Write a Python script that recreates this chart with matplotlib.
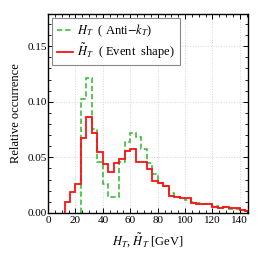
import numpy as np
import matplotlib
matplotlib.use("Agg")
import matplotlib.pyplot as plt
from matplotlib.ticker import MultipleLocator

plt.rcParams['font.family'] = ['Liberation Serif', 'DejaVu Serif']
plt.rcParams['mathtext.fontset'] = 'stix'

red_edges = np.arange(12, 152, 4)
red_vals = [0.0102, 0.0192, 0.0258, 0.0678, 0.0867, 0.0717, 0.0546,
            0.0441, 0.0366, 0.0447, 0.0486, 0.0553, 0.0573, 0.0462, 0.0462,
            0.0393, 0.0290, 0.0273, 0.0243, 0.0156, 0.0147, 0.0135, 0.0136,
            0.0093, 0.0084, 0.0076, 0.0078, 0.0057, 0.0047, 0.0055, 0.0042,
            0.0040, 0.0028, 0.0020]
green_edges = np.arange(24, 152, 4)
green_vals = [0.1026, 0.1218, 0.0756, 0.0462,
              0.0258, 0.0141, 0.0141, 0.0456, 0.0635, 0.0717, 0.0687, 0.0576,
              0.0453, 0.0351, 0.0273, 0.0243, 0.0177, 0.0147, 0.0132, 0.0117,
              0.0096, 0.0087, 0.0078, 0.0078, 0.0060, 0.0048, 0.0050, 0.0038,
              0.0036, 0.0026, 0.0020]

fig = plt.figure(figsize=(2.6, 2.6), dpi=100)
ax = fig.add_axes([0.185, 0.181, 0.769, 0.765])

ax.stairs(green_vals, green_edges, color='#2db82d', lw=1.1, ls=(0, (3.5, 1.8)),
          baseline=0, fill=False, label=r'$H_T$  ( Anti$-k_T$)', zorder=3)
ax.stairs(red_vals, red_edges, color='#ff1010', lw=1.3, baseline=0,
          label=r'$\tilde{H}_T$  ( Event  shape)', zorder=4)

ax.set_xlim(0, 146)
ax.set_ylim(0, 0.179)
ax.xaxis.set_major_locator(MultipleLocator(20))
ax.xaxis.set_minor_locator(MultipleLocator(5))
ax.yaxis.set_major_locator(MultipleLocator(0.05))
ax.yaxis.set_minor_locator(MultipleLocator(0.01))
ax.set_yticks([0, 0.05, 0.10, 0.15])
ax.set_yticklabels(['0.00', '0.05', '0.10', '0.15'])
ax.tick_params(which='both', direction='in', top=True, right=True, labelsize=8)
ax.tick_params(which='major', length=3.5, width=0.7)
ax.tick_params(which='minor', length=2, width=0.6)
ax.tick_params(axis='x', pad=2)
ax.tick_params(axis='y', pad=1)
for s in ax.spines.values():
    s.set_linewidth(1.0)
    s.set_zorder(5)
ax.grid(True, which='major', ls=':', color='#d5d5d5', lw=0.7)
ax.set_xlabel(r'$H_T$, $\tilde{H}_T$ [GeV]', fontsize=9, labelpad=5)
ax.set_ylabel('Relative occurrence', fontsize=9, labelpad=4)

leg = ax.legend(loc='upper left', fontsize=9, fancybox=False, framealpha=1,
                edgecolor='#888888', handlelength=1.3, borderaxespad=0.35,
                handletextpad=0.35, borderpad=0.35, labelspacing=0.2)
leg.get_frame().set_linewidth(0.8)

fig.savefig('out.png', dpi=100)
